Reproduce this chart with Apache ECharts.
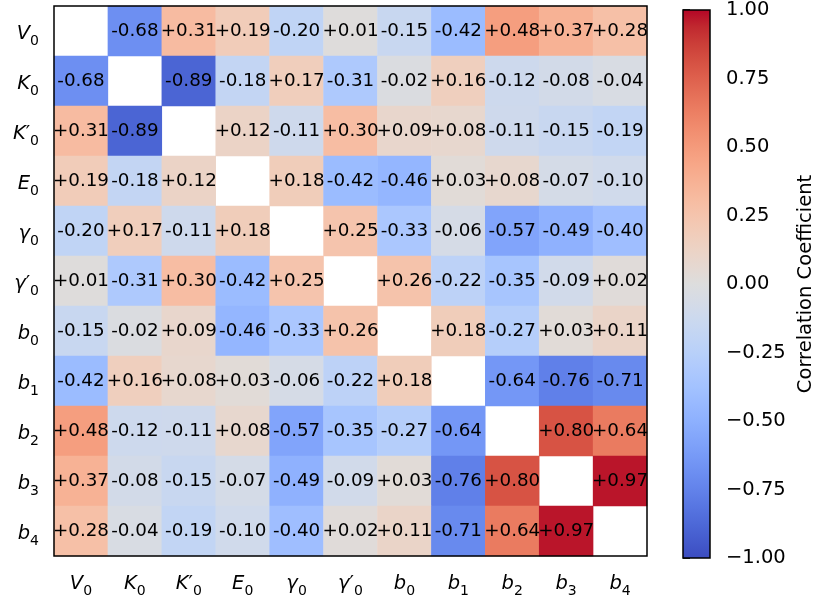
<!DOCTYPE html>
<html>
<head>
<meta charset="utf-8">
<script src="https://cdn.jsdelivr.net/npm/echarts@6/dist/echarts.min.js"></script>
<style>
html,body{margin:0;padding:0;background:#fff;}
#chart{width:817px;height:598px;}
</style>
</head>
<body>
<div id="chart"></div>
<script>
// Parameter labels: [symbol, prime, subscript]
const params = [
  ['V', false, '0'], ['K', false, '0'], ['K', true, '0'], ['E', false, '0'],
  ['γ', false, '0'], ['γ', true, '0'], ['b', false, '0'], ['b', false, '1'],
  ['b', false, '2'], ['b', false, '3'], ['b', false, '4']
];

// Correlation matrix rows (null = diagonal, left blank)
const rowV0  = [null, -0.68, 0.31, 0.19, -0.20, 0.01, -0.15, -0.42, 0.48, 0.37, 0.28];
const rowK0  = [-0.68, null, -0.89, -0.18, 0.17, -0.31, -0.02, 0.16, -0.12, -0.08, -0.04];
const rowKp0 = [0.31, -0.89, null, 0.12, -0.11, 0.30, 0.09, 0.08, -0.11, -0.15, -0.19];
const rowE0  = [0.19, -0.18, 0.12, null, 0.18, -0.42, -0.46, 0.03, 0.08, -0.07, -0.10];
const rowG0  = [-0.20, 0.17, -0.11, 0.18, null, 0.25, -0.33, -0.06, -0.57, -0.49, -0.40];
const rowGp0 = [0.01, -0.31, 0.30, -0.42, 0.25, null, 0.26, -0.22, -0.35, -0.09, 0.02];
const rowB0  = [-0.15, -0.02, 0.09, -0.46, -0.33, 0.26, null, 0.18, -0.27, 0.03, 0.11];
const rowB1  = [-0.42, 0.16, 0.08, 0.03, -0.06, -0.22, 0.18, null, -0.64, -0.76, -0.71];
const rowB2  = [0.48, -0.12, -0.11, 0.08, -0.57, -0.35, -0.27, -0.64, null, 0.80, 0.64];
const rowB3  = [0.37, -0.08, -0.15, -0.07, -0.49, -0.09, 0.03, -0.76, 0.80, null, 0.97];
const rowB4  = [0.28, -0.04, -0.19, -0.10, -0.40, 0.02, 0.11, -0.71, 0.64, 0.97, null];
const rows = [rowV0, rowK0, rowKp0, rowE0, rowG0, rowGp0, rowB0, rowB1, rowB2, rowB3, rowB4];

// Colorbar range and tick step
const cbarMin = -1.0, cbarMax = 1.0, cbarStep = 0.25;

// coolwarm colormap stops
const coolwarmRGB = [
  [59,76,192],[68,90,204],[77,104,215],[87,117,225],[98,130,234],[108,142,241],
  [119,154,247],[130,165,251],[141,176,254],[152,185,255],[163,194,255],[174,201,253],
  [184,208,249],[194,213,244],[204,217,238],[213,219,230],[221,221,221],[229,216,209],
  [236,211,197],[241,204,185],[245,196,173],[247,187,160],[247,177,148],[247,166,135],
  [244,154,123],[241,141,111],[236,127,99],[229,112,88],[222,96,77],[213,80,66],
  [203,62,56],[192,40,47],[180,4,38]
];
const coolwarm = coolwarmRGB.map(c => 'rgb(' + c.join(',') + ')');
const cbarGradient = new echarts.graphic.LinearGradient(0, 1, 0, 0,
  coolwarm.map((c, i) => ({ offset: i / (coolwarm.length - 1), color: c })));

const cats = params.map((p, i) => String(i));
function labelFmt(idx) {
  const p = params[+idx];
  return '{i|' + p[0] + '}' + (p[1] ? '{p|′}' : '') + '{s|' + p[2] + '}';
}
const richStyle = {
  i: { fontFamily: 'DejaVu Sans', fontStyle: 'italic', fontSize: 19.5, color: '#000', verticalAlign: 'bottom', lineHeight: 26 },
  p: { fontFamily: 'DejaVu Sans', fontSize: 19.5, color: '#000', verticalAlign: 'bottom', lineHeight: 26 },
  s: { fontFamily: 'DejaVu Sans', fontSize: 14, color: '#000', verticalAlign: 'bottom', lineHeight: 26, padding: [0, 0, -4, 0] }
};

const data = [];
rows.forEach((row, r) => {
  row.forEach((v, c) => {
    if (v !== null) data.push([c, r, v]);
  });
});

const chart = echarts.init(document.getElementById('chart'), null, { renderer: 'canvas' });
chart.setOption({
  backgroundColor: '#fff',
  animation: false,
  grid: [
    { left: 54, top: 6, width: 593, height: 552, show: true, z: 5, borderColor: '#000', borderWidth: 1.5, backgroundColor: 'transparent' },
    { left: 683, top: 6, width: 28, height: 552, show: true, z: 1, borderColor: '#000', borderWidth: 1.5, backgroundColor: cbarGradient }
  ],
  xAxis: [
    { type: 'category', data: cats, gridIndex: 0, axisLine: { show: false }, axisTick: { show: false }, splitLine: { show: false },
      axisLabel: { interval: 0, formatter: labelFmt, rich: richStyle, margin: 12 } },
    { type: 'value', gridIndex: 1, min: 0, max: 1, show: false }
  ],
  yAxis: [
    { type: 'category', data: cats, gridIndex: 0, inverse: true, axisLine: { show: false }, axisTick: { show: false }, splitLine: { show: false },
      axisLabel: { interval: 0, formatter: labelFmt, rich: richStyle, margin: 15 } },
    { type: 'value', gridIndex: 1, min: cbarMin, max: cbarMax, interval: cbarStep, position: 'right',
      axisLine: { show: false }, splitLine: { show: false },
      axisTick: { show: true, length: 7, lineStyle: { color: '#000', width: 1.5 } },
      axisLabel: { margin: 16, fontFamily: 'DejaVu Sans', fontSize: 19.5, color: '#000',
        formatter: v => (v < 0 ? '−' : '') + Math.abs(v).toFixed(2) },
      name: 'Correlation Coefficient', nameLocation: 'middle', nameRotate: 90, nameGap: 86,
      nameTextStyle: { fontFamily: 'DejaVu Sans', fontSize: 19.5, color: '#000' } }
  ],
  visualMap: {
    type: 'continuous', min: cbarMin, max: cbarMax, seriesIndex: 0, show: false,
    inRange: { color: coolwarm }
  },
  series: [{
    type: 'heatmap', xAxisIndex: 0, yAxisIndex: 0, data: data,
    label: { show: true, color: '#000', fontFamily: 'DejaVu Sans', fontSize: 18.3,
      formatter: p => { const v = p.value[2]; return (v >= 0 ? '+' : '') + v.toFixed(2); } },
    itemStyle: { borderWidth: 0 }
  }]
});
</script>
</body>
</html>
